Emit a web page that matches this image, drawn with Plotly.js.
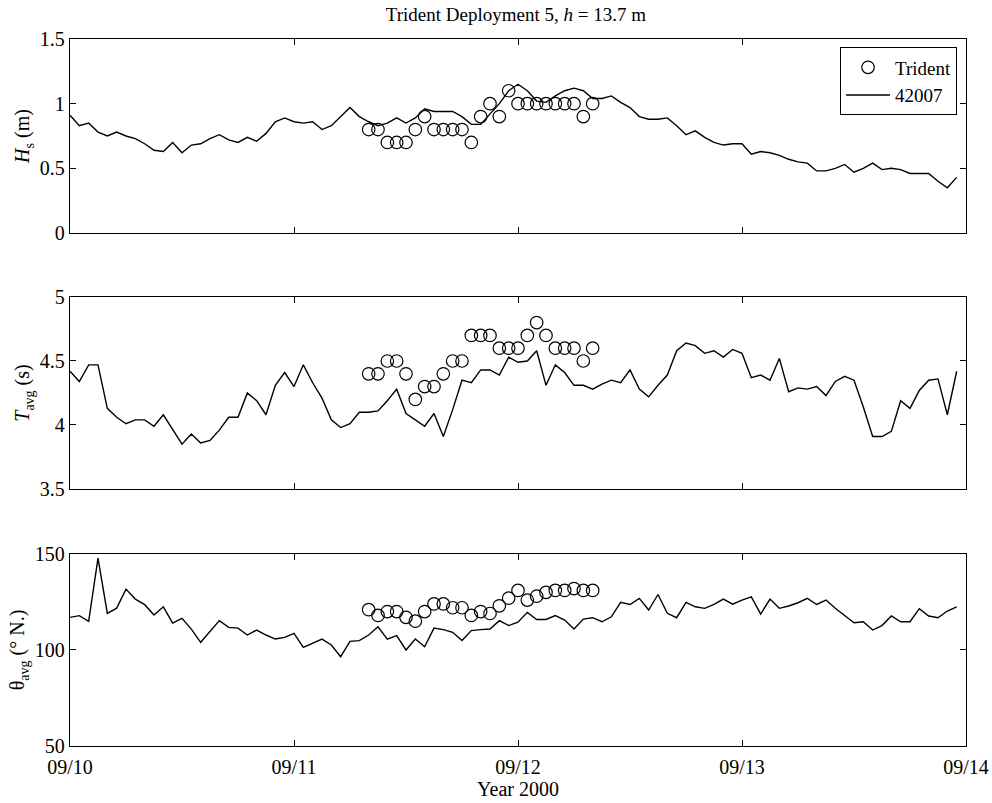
<!DOCTYPE html>
<html>
<head>
<meta charset="utf-8">
<script src="https://cdn.plot.ly/plotly-3.0.1.min.js"></script>
<style>html,body{margin:0;padding:0;background:#fff;}#chart{width:992px;height:803px;}</style>
</head>
<body>
<div id="chart"></div>
<script>
// Hourly buoy 42007 series, 09/10 00:00 to 09/13 23:00
const buoyHs = [0.91,0.83,0.85,0.78,0.75,0.78,0.75,0.73,0.69,0.64,0.63,0.70,0.62,0.68,0.69,0.73,0.76,0.72,0.70,0.74,0.71,0.77,0.86,0.89,
  0.86,0.85,0.86,0.80,0.83,0.90,0.97,0.90,0.86,0.83,0.85,0.89,0.85,0.89,0.96,0.94,0.94,0.94,0.90,0.84,0.84,0.92,1.00,1.10,
  1.15,1.10,1.02,1.01,1.06,1.10,1.12,1.10,1.04,1.04,1.06,1.01,0.97,0.90,0.88,0.88,0.89,0.83,0.76,0.79,0.74,0.70,0.68,0.69,
  0.69,0.61,0.63,0.62,0.60,0.57,0.55,0.54,0.48,0.48,0.50,0.53,0.47,0.50,0.54,0.49,0.50,0.49,0.46,0.46,0.46,0.40,0.35,0.43];
const buoyT = [4.42,4.34,4.47,4.47,4.13,4.06,4.01,4.04,4.04,3.99,4.08,3.97,3.85,3.93,3.86,3.88,3.96,4.06,4.06,4.25,4.19,4.08,4.31,4.41,
  4.30,4.47,4.33,4.21,4.04,3.98,4.01,4.10,4.10,4.11,4.19,4.28,4.09,4.04,3.99,4.09,3.91,4.12,4.35,4.33,4.43,4.43,4.39,4.53,
  4.49,4.50,4.58,4.31,4.47,4.41,4.31,4.31,4.28,4.32,4.35,4.33,4.43,4.28,4.22,4.31,4.39,4.58,4.64,4.62,4.56,4.58,4.53,4.59,
  4.56,4.37,4.39,4.35,4.52,4.26,4.29,4.28,4.30,4.23,4.34,4.38,4.35,4.14,3.91,3.91,3.95,4.19,4.13,4.27,4.35,4.36,4.08,4.42];
const buoyDir = [117.0,117.9,114.9,147.8,119.1,121.8,131.7,126.5,123.6,118.2,122.5,114.0,116.5,110.9,104.0,109.5,115.3,111.8,111.4,107.8,110.4,107.8,105.7,106.6,
  108.7,101.4,103.5,105.7,102.6,96.5,104.5,104.9,107.8,112.1,105.7,107.5,100.0,105.7,101.7,111.4,110.6,109.2,104.9,110.1,110.6,110.9,115.3,112.7,
  114.5,119.6,115.9,115.9,117.9,115.6,110.9,116.1,116.8,114.7,117.3,124.8,123.7,126.9,120.8,128.9,119.1,116.8,124.8,122.5,121.7,123.7,126.5,123.9,
  126.0,127.7,118.7,126.5,121.7,122.9,124.6,126.9,123.7,126.0,121.7,117.9,114.2,114.7,110.4,112.7,117.7,114.7,114.7,121.5,117.7,116.8,120.3,122.5];

// Hourly Trident series, 09/11 08:00 to 09/12 08:00
const tridentHs = [0.8,0.8,0.7,0.7,0.7,0.8,0.9,0.8,0.8,0.8,0.8,0.7,0.9,1.0,0.9,1.1,1.0,1.0,1.0,1.0,1.0,1.0,1.0,0.9,1.0];
const tridentT = [4.4,4.4,4.5,4.5,4.4,4.2,4.3,4.3,4.4,4.5,4.5,4.7,4.7,4.7,4.6,4.6,4.6,4.7,4.8,4.7,4.6,4.6,4.6,4.5,4.6];
const tridentDir = [121,118,120,120,117,115,120,124,124,122,122,118,120,119,123,127,131,126,128,130,131,131,132,131,131];

const xTickVals = ['2000-09-10','2000-09-11','2000-09-12','2000-09-13','2000-09-14'];
const xTickText = ['09/10','09/11','09/12','09/13','09/14'];

function pad(n){return (n<10?'0':'')+n;}
function stamp(startDay, startHour, i){
  const d = new Date(Date.UTC(2000, 8, startDay, startHour + i));
  return d.getUTCFullYear()+'-'+pad(d.getUTCMonth()+1)+'-'+pad(d.getUTCDate())+' '+pad(d.getUTCHours())+':00';
}
const buoyTime = buoyHs.map((_, i) => stamp(10, 0, i));
const tridentTime = tridentHs.map((_, i) => stamp(11, 8, i));

const lineStyle = {color:'#000', width:1.4};
const markerStyle = {symbol:'circle-open', size:12.5, color:'#000', line:{color:'#000', width:1.2}};

const traces = [
  {x:tridentTime, y:tridentHs, xaxis:'x', yaxis:'y', mode:'markers', name:'Trident', marker:markerStyle, showlegend:true},
  {x:buoyTime, y:buoyHs, xaxis:'x', yaxis:'y', mode:'lines', name:'42007', line:lineStyle, showlegend:true},
  {x:tridentTime, y:tridentT, xaxis:'x2', yaxis:'y2', mode:'markers', name:'Trident', marker:markerStyle, showlegend:false},
  {x:buoyTime, y:buoyT, xaxis:'x2', yaxis:'y2', mode:'lines', name:'42007', line:lineStyle, showlegend:false},
  {x:tridentTime, y:tridentDir, xaxis:'x3', yaxis:'y3', mode:'markers', name:'Trident', marker:markerStyle, showlegend:false},
  {x:buoyTime, y:buoyDir, xaxis:'x3', yaxis:'y3', mode:'lines', name:'42007', line:lineStyle, showlegend:false}
];

const fontFam = '"Liberation Serif", "Times New Roman", serif';
function xax(anchor, showLabels){
  return {
    anchor:anchor, domain:[0,1], type:'date', range:['2000-09-10','2000-09-14'],
    tickvals:xTickVals, ticktext:xTickText, showticklabels:showLabels,
    ticks:'inside', ticklen:6, tickwidth:1, tickcolor:'#000',
    showline:true, linecolor:'#000', linewidth:1.2, mirror:'ticks',
    showgrid:false, zeroline:false, tickfont:{size:20}, ticklabelstandoff:3
  };
}
function yax(anchor, domain, range, tickvals, titleText){
  return {
    anchor:anchor, domain:domain, range:range, tickvals:tickvals,
    ticks:'inside', ticklen:6, tickwidth:1, tickcolor:'#000',
    showline:true, linecolor:'#000', linewidth:1.2, mirror:'ticks',
    showgrid:false, zeroline:false, tickfont:{size:20},
    title:{text:titleText, font:{size:20}, standoff:4}
  };
}

const layout = {
  width:992, height:803,
  margin:{l:70, r:26, t:39, b:57},
  paper_bgcolor:'#fff', plot_bgcolor:'#fff',
  font:{family:fontFam, size:20, color:'#000'},
  title:{text:'Trident Deployment 5, <i>h</i> = 13.7 m', font:{size:19}, x:0.52, xanchor:'center', y:0.99, yanchor:'top'},
  showlegend:true,
  legend:{x:0.99, xanchor:'right', y:0.988, yanchor:'top', bgcolor:'#fff', bordercolor:'#000', borderwidth:1,
          font:{size:19}, tracegroupgap:0, itemwidth:44},
  xaxis:xax('y', false),
  xaxis2:xax('y2', false),
  xaxis3:Object.assign(xax('y3', true), {title:{text:'Year 2000', font:{size:20}, standoff:4}}),
  yaxis:yax('x', [0.7256,1.0], [0,1.5], [0,0.5,1,1.5], '<i>H</i><sub>s</sub> (m)'),
  yaxis2:yax('x2', [0.3635,0.6351], [3.5,5], [3.5,4,4.5,5], '<i>T</i><sub>avg</sub> (s)'),
  yaxis3:yax('x3', [0,0.2716], [50,150], [50,100,150], 'θ<sub>avg</sub> (° N.)')
};

Plotly.newPlot('chart', traces, layout, {staticPlot:true, displayModeBar:false});
</script>
</body>
</html>
